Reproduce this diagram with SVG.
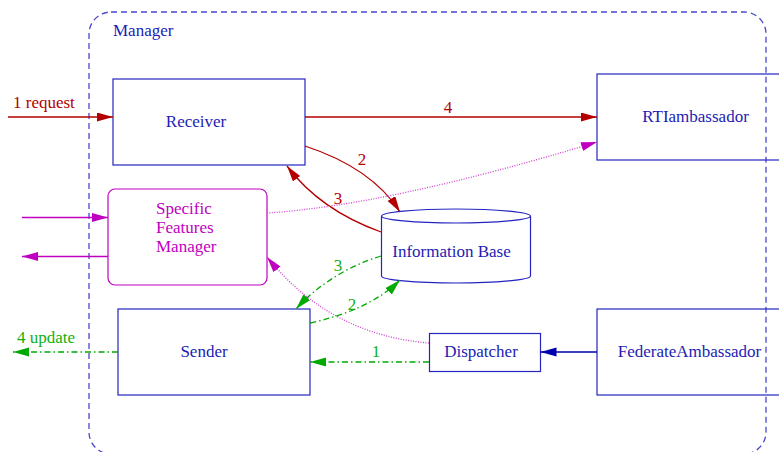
<svg xmlns="http://www.w3.org/2000/svg" width="779" height="452" viewBox="0 0 779 452">
<defs>
<style>
text{font-family:"Liberation Serif","Times New Roman",serif;font-size:17px}
.lbl{fill:#1c1cb4}
.box{fill:none;stroke:#2424c0;stroke-width:1.2}
.red{stroke:#b40000;stroke-width:1.3;fill:none}
.mag{stroke:#c000c0;stroke-width:1.3;fill:none}
.magd{stroke:#d040d0;stroke-width:1.3;fill:none;stroke-dasharray:1,1.5}
.grn{stroke:#00aa00;stroke-width:1.3;fill:none;stroke-dasharray:6,3,1.5,3}
.blu{stroke:#0000b0;stroke-width:1.3;fill:none}
.tred{fill:#b40000}
.tmag{fill:#c000c0}
.tgrn{fill:#10b010}
</style>
<marker id="ar" markerUnits="userSpaceOnUse" markerWidth="17" markerHeight="10" refX="16" refY="4.5" orient="auto"><path d="M0,0 L16,4.5 L0,9 z" fill="#b40000"/></marker>
<marker id="am" markerUnits="userSpaceOnUse" markerWidth="17" markerHeight="10" refX="16" refY="4.5" orient="auto"><path d="M0,0 L16,4.5 L0,9 z" fill="#c000c0"/></marker>
<marker id="ag" markerUnits="userSpaceOnUse" markerWidth="17" markerHeight="10" refX="16" refY="4.5" orient="auto"><path d="M0,0 L16,4.5 L0,9 z" fill="#00aa00"/></marker>
<marker id="ab" markerUnits="userSpaceOnUse" markerWidth="17" markerHeight="10" refX="16" refY="4.5" orient="auto"><path d="M0,0 L16,4.5 L0,9 z" fill="#0000b0"/></marker>
</defs>
<rect width="779" height="452" fill="#ffffff"/>
<g id="manager">
<rect x="89" y="12" width="677" height="442" rx="22" fill="none" stroke="#4848d0" stroke-width="1.3" stroke-dasharray="6,4"/>
<text x="113" y="36" class="lbl">Manager</text>
</g>
<g id="receiver">
<rect x="113" y="79" width="192" height="86" class="box" fill="#fff"/>
<text x="196" y="127" class="lbl" text-anchor="middle">Receiver</text>
</g>
<g id="rtiambassador">
<rect x="597" y="74" width="200" height="86" class="box" fill="#fff"/>
<text x="695.5" y="122" class="lbl" text-anchor="middle">RTIambassador</text>
</g>
<g id="sfm">
<rect x="108" y="189" width="159" height="96" rx="7" fill="#fff" stroke="#c000c0" stroke-width="1.2"/>
<text x="156" y="213.5" class="tmag">Specific</text>
<text x="156" y="233" class="tmag">Features</text>
<text x="156" y="252" class="tmag">Manager</text>
</g>
<g id="infobase">
<path d="M381.5,216 L381.5,276 A74.5,7 0 0 0 530.5,276 L530.5,216" fill="#fff" stroke="#2424c0" stroke-width="1.2"/>
<ellipse cx="456" cy="216" rx="74.5" ry="7" fill="#fff" stroke="#2424c0" stroke-width="1.2"/>
<text x="451.5" y="257" class="lbl" text-anchor="middle">Information Base</text>
</g>
<g id="sender">
<rect x="118" y="309" width="192" height="86" class="box" fill="#fff"/>
<text x="204" y="357" class="lbl" text-anchor="middle">Sender</text>
</g>
<g id="dispatcher">
<rect x="429.5" y="333.5" width="111" height="38" class="box" fill="#fff"/>
<text x="481" y="357" class="lbl" text-anchor="middle">Dispatcher</text>
</g>
<g id="federateambassador">
<rect x="597" y="309" width="200" height="86" class="box" fill="#fff"/>
<text x="689.5" y="357" class="lbl" text-anchor="middle">FederateAmbassador</text>
</g>
<g id="connectors">
<path d="M8,117 L113,117" class="red" marker-end="url(#ar)"/>
<text x="13" y="108" class="tred">1 request</text>
<path d="M305,117 L597,117" class="red" marker-end="url(#ar)"/>
<text x="448" y="113" class="tred" text-anchor="middle">4</text>
<path d="M305,146 Q372,168 400,212" class="red" marker-end="url(#ar)"/>
<text x="362" y="165" class="tred" text-anchor="middle">2</text>
<path d="M381,232 Q320,210 287,166" class="red" marker-end="url(#ar)"/>
<text x="338" y="203.5" class="tred" text-anchor="middle">3</text>
<path d="M22,217.5 L108,217.5" class="mag" marker-end="url(#am)"/>
<path d="M108,256.5 L22,256.5" class="mag" marker-end="url(#am)"/>
<path d="M267,213 Q390,205 597,142" class="magd" marker-end="url(#am)"/>
<path d="M429,343 Q330,335 267,257" class="magd" marker-end="url(#am)"/>
<path d="M381,256 Q330,272 296,309" class="grn" marker-end="url(#ag)"/>
<text x="338" y="271" class="tgrn" text-anchor="middle">3</text>
<path d="M310,323 Q370,310 400,280" class="grn" marker-end="url(#ag)"/>
<text x="352" y="309.5" class="tgrn" text-anchor="middle">2</text>
<path d="M429,362 L310,362" class="grn" marker-end="url(#ag)"/>
<text x="376" y="357" class="tgrn" text-anchor="middle">1</text>
<path d="M118,352 L13,352" class="grn" marker-end="url(#ag)"/>
<text x="17" y="343" class="tgrn">4 update</text>
<path d="M597,352 L540.5,352" class="blu" marker-end="url(#ab)"/>
</g>
</svg>
